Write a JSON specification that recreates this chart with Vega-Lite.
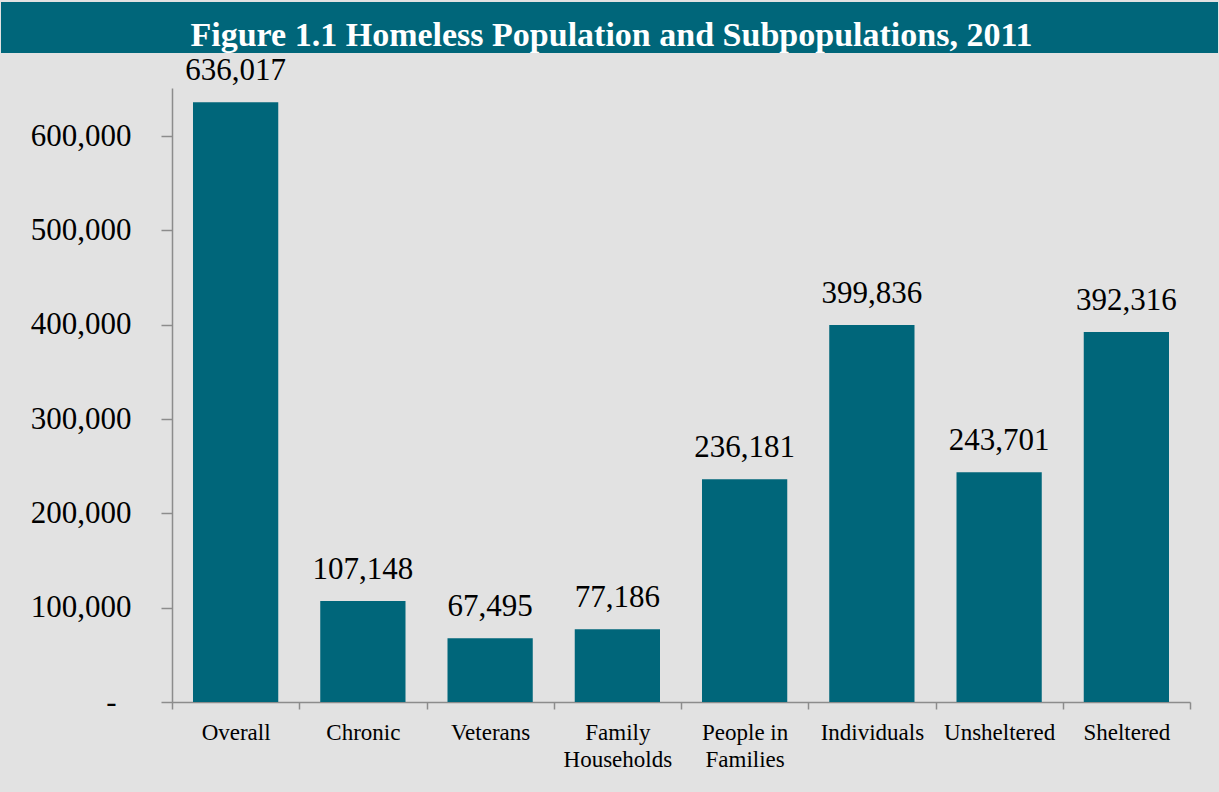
{
  "$schema": "https://vega.github.io/schema/vega-lite/v6.json",
  "background": "#e2e2e2",
  "padding": {"left": 1, "right": 1, "top": 2, "bottom": 40},
  "config": {
    "view": {"stroke": null},
    "font": "Liberation Serif"
  },
  "bounds": "flush",
  "spacing": 35,
  "vconcat": [
    {
      "width": 1217,
      "height": 51,
      "view": {"fill": "#00667a", "stroke": null},
      "data": {"values": [{"title": "Figure 1.1 Homeless Population and Subpopulations, 2011"}]},
      "mark": {"type": "text", "font": "Liberation Serif", "fontWeight": "bold", "fontSize": 34, "color": "#ffffff", "baseline": "alphabetic", "dy": 18, "dx": 2},
      "encoding": {"text": {"field": "title", "type": "nominal"}}
    },
    {
      "width": 1217,
      "height": 614,
      "data": {
        "values": [
          {"category": "Overall", "count": 636017},
          {"category": "Chronic", "count": 107148},
          {"category": "Veterans", "count": 67495},
          {"category": "Family Households", "count": 77186},
          {"category": "People in Families", "count": 236181},
          {"category": "Individuals", "count": 399836},
          {"category": "Unsheltered", "count": 243701},
          {"category": "Sheltered", "count": 392316}
        ]
      },
      "encoding": {
        "x": {
          "field": "category",
          "type": "nominal",
          "sort": null,
          "scale": {"paddingInner": 0, "paddingOuter": 0, "range": [171, 1189]},
          "axis": {
            "title": null,
            "labelAngle": 0,
            "tickBand": "extent",
            "domainColor": "#8c8c8c",
            "domainWidth": 1.5,
            "tickColor": "#8c8c8c",
            "tickWidth": 1.5,
            "tickSize": 7,
            "labelFont": "Liberation Serif",
            "labelFontSize": 23,
            "labelColor": "#000000",
            "labelPadding": 12,
            "labelLineHeight": 27,
            "labelBaseline": "top",
            "labelExpr": "datum.label == 'Family Households' ? ['Family', 'Households'] : datum.label == 'People in Families' ? ['People in', 'Families'] : datum.label"
          }
        },
        "y": {
          "field": "count",
          "type": "quantitative",
          "scale": {"domain": [0, 651000], "nice": false},
          "axis": {
            "title": null,
            "grid": false,
            "offset": -171,
            "values": [0, 100000, 200000, 300000, 400000, 500000, 600000],
            "domainColor": "#8c8c8c",
            "domainWidth": 1.5,
            "tickColor": "#8c8c8c",
            "tickWidth": 1.5,
            "tickSize": 11,
            "labelFont": "Liberation Serif",
            "labelFontSize": 31,
            "labelColor": "#000000",
            "labelPadding": {"condition": {"test": "datum.value == 0", "value": 45}, "value": 30},
            "labelExpr": "datum.value == 0 ? '-' : format(datum.value, ',d')"
          }
        }
      },
      "layer": [
        {
          "mark": {"type": "bar", "color": "#00667a", "width": {"band": 0.67}}
        },
        {
          "mark": {"type": "text", "font": "Liberation Serif", "fontSize": 31, "color": "#000000", "baseline": "alphabetic", "dy": -22},
          "encoding": {"text": {"field": "count", "type": "quantitative", "format": ",d"}}
        }
      ]
    }
  ]
}
